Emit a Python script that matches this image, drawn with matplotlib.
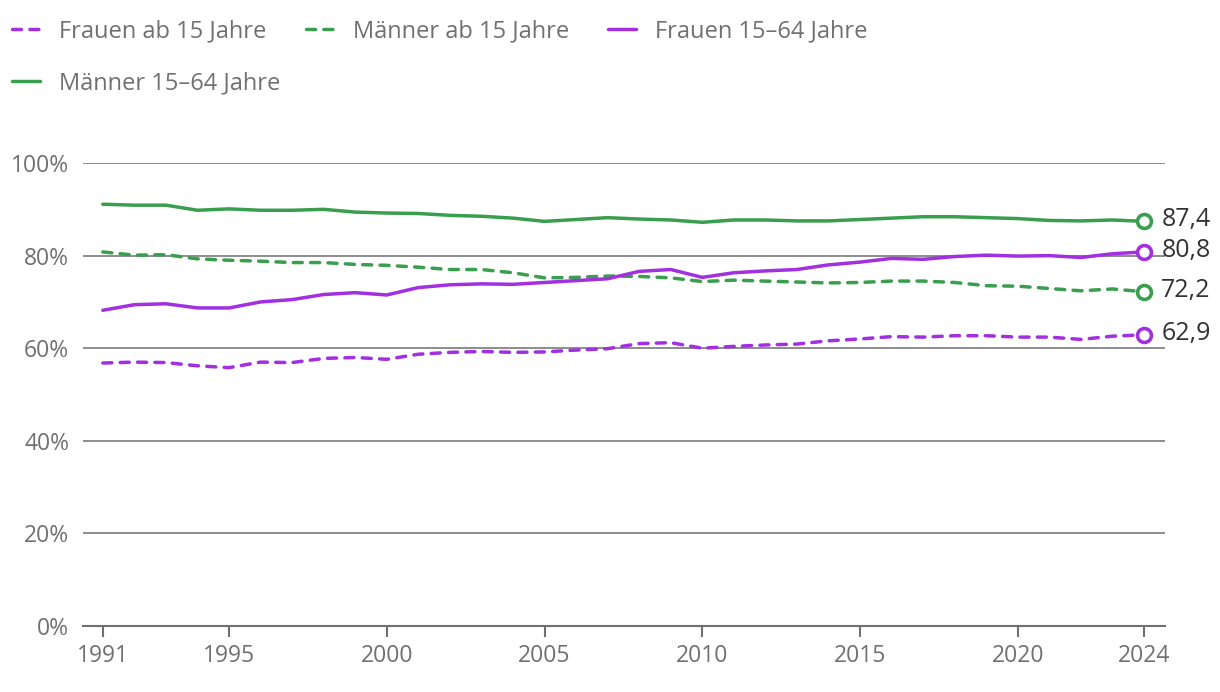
import numpy as np
import matplotlib
matplotlib.use("Agg")
import matplotlib.pyplot as plt

plt.rcParams['font.family'] = ['Open Sans', 'DejaVu Sans']

# Erwerbstätigenquoten in Prozent
years = list(range(1991, 2025))
frauen_ab15 = [56.8, 57.0, 56.9, 56.2, 55.8, 57.0, 56.9, 57.8, 58.0, 57.6,
               58.7, 59.1, 59.3, 59.1, 59.2, 59.6, 59.9, 61.0, 61.2, 60.0,
               60.4, 60.7, 60.9, 61.6, 62.0, 62.5, 62.4, 62.7, 62.7, 62.4,
               62.4, 61.9, 62.6, 62.9]
maenner_ab15 = [80.8, 80.1, 80.2, 79.3, 79.0, 78.8, 78.5, 78.5, 78.1, 77.9,
                77.5, 77.0, 77.0, 76.3, 75.2, 75.3, 75.6, 75.5, 75.2, 74.4,
                74.7, 74.5, 74.3, 74.1, 74.2, 74.5, 74.5, 74.2, 73.5, 73.4,
                72.9, 72.4, 72.8, 72.2]
frauen_1564 = [68.2, 69.4, 69.6, 68.7, 68.7, 70.0, 70.5, 71.6, 72.0, 71.5,
               73.1, 73.7, 73.9, 73.8, 74.2, 74.6, 75.0, 76.6, 77.0, 75.3,
               76.3, 76.7, 77.0, 78.0, 78.6, 79.4, 79.2, 79.8, 80.1, 79.9,
               80.0, 79.6, 80.4, 80.8]
maenner_1564 = [91.1, 90.9, 90.9, 89.8, 90.1, 89.8, 89.8, 90.0, 89.4, 89.2,
                89.1, 88.7, 88.5, 88.1, 87.4, 87.8, 88.2, 87.9, 87.7, 87.2,
                87.7, 87.7, 87.5, 87.5, 87.8, 88.1, 88.4, 88.4, 88.2, 88.0,
                87.6, 87.5, 87.7, 87.4]
xticks = [1991, 1995, 2000, 2005, 2010, 2015, 2020, 2024]
yticks = [0, 20, 40, 60, 80, 100]

green = '#3a9e4f'
purple = '#a22fe0'
gray = '#707070'

fig = plt.figure(figsize=(12.2, 6.92), dpi=100)
ax = fig.add_axes((0.068, 0.0954, 0.887, 0.669))

series = [
    ('Frauen ab 15 Jahre', frauen_ab15, purple, (0, (2.6, 2.4))),
    ('Männer ab 15 Jahre', maenner_ab15, green, (0, (2.6, 2.4))),
    ('Frauen 15–64 Jahre', frauen_1564, purple, '-'),
    ('Männer 15–64 Jahre', maenner_1564, green, '-'),
]

handles = []
for label, vals, col, ls in series:
    h, = ax.plot(years, vals, color=col, lw=2.5, ls=ls, label=label,
                 solid_capstyle='round', dash_capstyle='round')
    handles.append(h)
    ax.plot(years[-1], vals[-1], 'o', ms=10, mfc='white', mec=col, mew=2.6,
            clip_on=False, zorder=5)
    ax.annotate(f"{vals[-1]:.1f}".replace('.', ','), (years[-1], vals[-1]),
                xytext=(12.5, 1), textcoords='offset points', va='center',
                ha='left', fontsize=18, color='#333333', annotation_clip=False)

ax.set_xlim(1990.37, 2024.67)
ax.set_ylim(0, 100)
ax.set_xticks(xticks)
ax.set_yticks(yticks)
ax.set_yticklabels([f"{v}%" for v in yticks])
ax.grid(axis='y', color='#7a7a7a', lw=1.2)
ax.set_axisbelow(True)
for s in ['top', 'right', 'left']:
    ax.spines[s].set_visible(False)
ax.spines['bottom'].set_color('#707070')
ax.spines['bottom'].set_linewidth(1.5)
ax.tick_params(axis='y', length=0, labelsize=16.5, labelcolor=gray, pad=10)
ax.tick_params(axis='x', length=8, width=1.5, color='#707070',
               labelsize=16.5, labelcolor=gray, pad=5)

# legend: three entries in the first row, one in the second
leg_kw = dict(frameon=False, fontsize=17, handlelength=1.2,
              handletextpad=0.8, columnspacing=1.65, borderpad=0,
              borderaxespad=0, loc='center left', labelcolor=gray)
leg1 = fig.legend(handles[:3], [s[0] for s in series[:3]], ncol=3,
                  bbox_to_anchor=(12 / 1220, 1 - 31 / 692), **leg_kw)
leg2 = fig.legend(handles[3:], [series[3][0]], ncol=1,
                  bbox_to_anchor=(12 / 1220, 1 - 83 / 692), **leg_kw)

fig.savefig('out.png', dpi=100)
